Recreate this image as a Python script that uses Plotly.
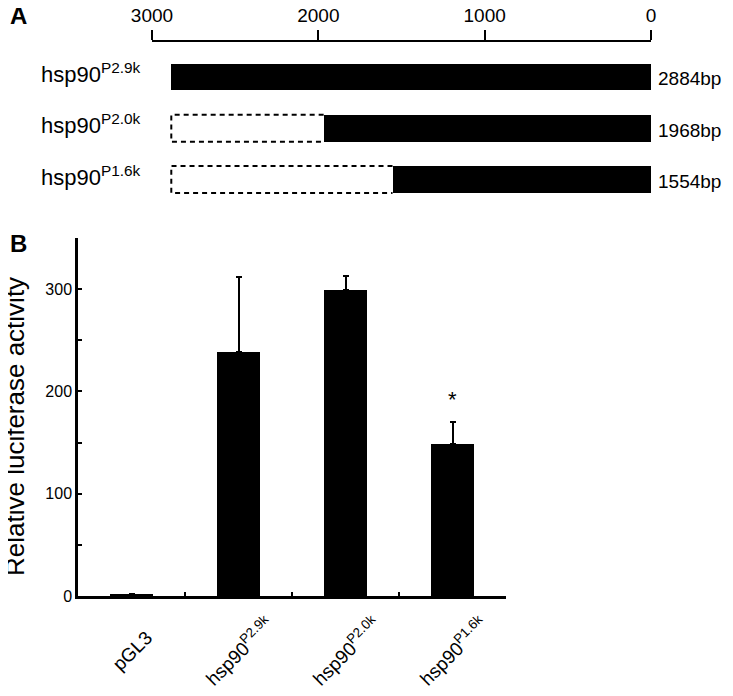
import plotly.graph_objects as go

W, H = 733, 696
OFF = 8  # page body margin in the browser
FONT = "Liberation Sans, Arial, sans-serif"

# ---- Panel A data ----
construct_labels = ["hsp90<sup>P2.9k</sup>", "hsp90<sup>P2.0k</sup>", "hsp90<sup>P1.6k</sup>"]
construct_lengths = [2884, 1968, 1554]
length_labels = ["2884bp", "1968bp", "1554bp"]
full_length = 2884
scale_ticks = [3000, 2000, 1000, 0]

# ---- Panel B data ----
categories = ["pGL3", "hsp90 P2.9k", "hsp90 P2.0k", "hsp90 P1.6k"]
cat_labels = ["pGL3", "hsp90<sup>P2.9k</sup>", "hsp90<sup>P2.0k</sup>", "hsp90<sup>P1.6k</sup>"]
activity = [1, 239, 299, 149]
activity_err = [0.5, 73, 14, 21]
significant = [False, False, False, True]
y_ticks = [0, 50, 100, 150, 200, 250, 300, 350]
y_ticktext = ["0", "", "100", "", "200", "", "300", ""]

def px(x):
    return max(0.0, (x - OFF) / W)

def py(y):
    return 1 - (y - OFF) / H

fig = go.Figure()

# Panel A: solid promoter bars
row_idx = list(range(len(construct_lengths)))
bar_h = 0.526
fig.add_trace(go.Bar(
    y=row_idx, x=construct_lengths, base=0, orientation="h",
    width=bar_h, marker=dict(color="black", line=dict(width=0)),
    xaxis="x2", yaxis="y2", showlegend=False, hoverinfo="skip"))

# Panel A: dashed outlines for deleted regions
for i, L in enumerate(construct_lengths):
    if L < full_length:
        top, bot = i - bar_h / 2, i + bar_h / 2
        fig.add_trace(go.Scatter(
            x=[L, full_length, full_length, L],
            y=[top, top, bot, bot],
            mode="lines", line=dict(color="black", width=2, dash="5px,4px"),
            xaxis="x2", yaxis="y2", showlegend=False, hoverinfo="skip"))

# Panel B bars
fig.add_trace(go.Bar(
    x=categories, y=activity, width=0.4,
    marker=dict(color="black", line=dict(width=0)),
    error_y=dict(type="data", array=activity_err, arrayminus=[0] * len(activity),
                 symmetric=False, color="black", thickness=2, width=3),
    xaxis="x", yaxis="y", showlegend=False, hoverinfo="skip"))

annotations = []
for i, lab in enumerate(construct_labels):
    annotations.append(dict(x=px(143), xref="paper", y=i, yref="y2", text=lab,
                            xanchor="right", yanchor="middle", showarrow=False,
                            font=dict(size=22, color="black", family=FONT), yshift=4))
for i, lab in enumerate(length_labels):
    annotations.append(dict(x=px(656), xref="paper", y=i, yref="y2", text=lab,
                            xanchor="left", yanchor="middle", showarrow=False,
                            font=dict(size=19, color="black", family=FONT), yshift=-2))
for i, sig in enumerate(significant):
    if sig:
        annotations.append(dict(x=categories[i], xref="x", y=activity[i] + activity_err[i],
                                yref="y", text="*", showarrow=False, yanchor="bottom",
                                yshift=8, font=dict(size=22, color="black", family=FONT)))
# rotated category labels, centred under each category
for c, lab in zip(categories, cat_labels):
    annotations.append(dict(x=c, xref="x", y=py(651), yref="paper", text=lab,
                            textangle=-45, showarrow=False,
                            xanchor="center", yanchor="middle",
                            font=dict(size=19, color="black", family=FONT)))
annotations += [
    dict(x=px(4), y=py(15), xref="paper", yref="paper", text="<b>A</b>", showarrow=False,
         xanchor="left", yanchor="middle", font=dict(size=24, color="black", family=FONT)),
    dict(x=px(2), y=py(244), xref="paper", yref="paper", text="<b>B</b>", showarrow=False,
         xanchor="left", yanchor="middle", font=dict(size=24, color="black", family=FONT)),
    dict(x=px(15), y=py(427), xref="paper", yref="paper", text="Relative luciferase activity",
         showarrow=False, textangle=-90, xanchor="center", yanchor="middle",
         font=dict(size=26, color="black", family=FONT)),
]

top_line = 42  # screen y of the scale-bar line
row_top_val = -(77 - top_line) / 51.3
row_bot_val = 2 + (230 - 179.5) / 51.3

fig.update_layout(
    width=W, height=H, autosize=False,
    margin=dict(l=0, r=0, t=0, b=0, pad=0),
    paper_bgcolor="white", plot_bgcolor="white",
    font=dict(family=FONT, color="black"),
    bargap=0,
    xaxis2=dict(domain=[px(152), px(651)], anchor="y2", side="top", automargin=False,
                range=[3000, 0], tickvals=scale_ticks, ticks="outside", ticklen=10,
                tickwidth=2, tickcolor="black", showline=True, linewidth=2,
                linecolor="black", showgrid=False, zeroline=False,
                tickfont=dict(size=19, color="black", family=FONT)),
    yaxis2=dict(domain=[py(230), py(top_line)], anchor="x2",
                range=[row_bot_val, row_top_val],
                automargin=False, visible=False, showgrid=False, zeroline=False),
    xaxis=dict(domain=[px(78), px(506)], anchor="y", type="category", automargin=False,
               categoryorder="array", categoryarray=categories,
               showticklabels=False,
               tickson="boundaries", ticks="inside", ticklen=4, tickwidth=2,
               tickcolor="black", showline=True, linewidth=2.5, linecolor="black",
               showgrid=False, zeroline=False),
    yaxis=dict(domain=[py(596), py(238)], anchor="x", range=[0, 350], automargin=False,
               tickvals=y_ticks, ticktext=y_ticktext, ticks="inside", ticklen=4,
               tickwidth=2, tickcolor="black", showline=True, linewidth=2.5,
               linecolor="black", showgrid=False, zeroline=False,
               tickfont=dict(size=16, color="black", family=FONT)),
    annotations=annotations,
)

fig.write_html("out.html")
